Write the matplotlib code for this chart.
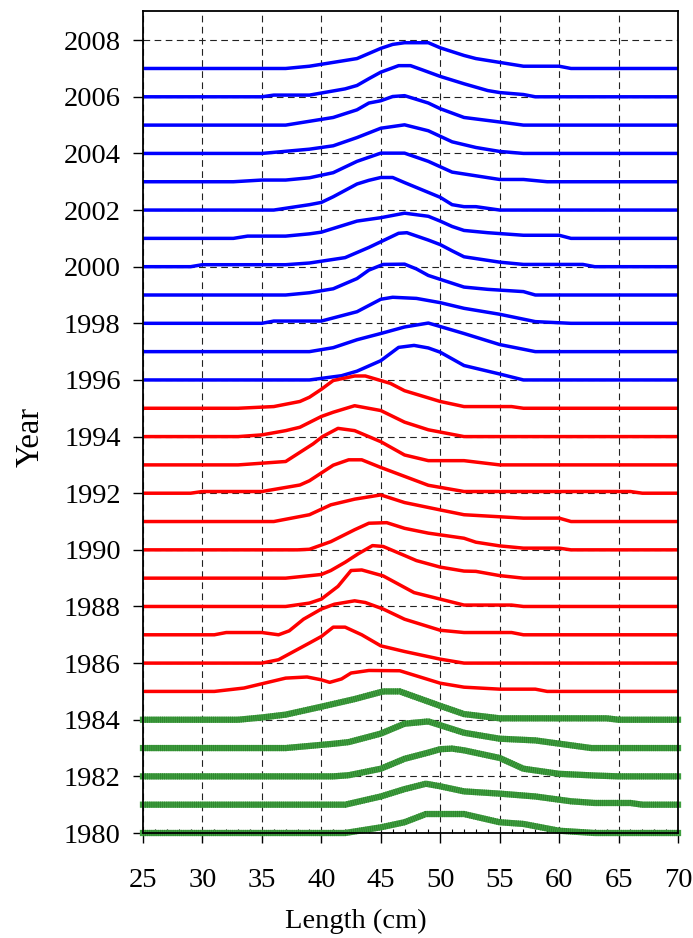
import matplotlib
matplotlib.use("Agg")
import matplotlib.pyplot as plt
from matplotlib.ticker import MultipleLocator

plt.rcParams['font.family'] = ['Liberation Serif', 'DejaVu Serif']

# ---- data: length-frequency profiles (height in "year" units), vertices (cm, height)
x_min, x_max = 25, 70
x_ticks = [25, 30, 35, 40, 45, 50, 55, 60, 65, 70]
y_ticks = list(range(1980, 2009, 2))

p2007 = [(37, 0), (39, 0.08), (43, 0.35), (44, 0.53), (45, 0.71), (46, 0.85), (47, 0.91), (49, 0.91),
         (50, 0.73), (52, 0.46), (53, 0.35), (57, 0.08), (60, 0.08), (61, 0)]
p2006 = [(35, 0), (36, 0.06), (39, 0.06), (42, 0.28), (43, 0.40), (44, 0.64), (45, 0.87), (46.5, 1.10),
         (47.5, 1.10), (48.5, 0.95), (50, 0.72), (52, 0.46), (54, 0.22), (55, 0.15), (57, 0.08), (58, 0)]
p2005 = [(37, 0), (41, 0.27), (43, 0.54), (44, 0.78), (45, 0.86), (46, 1.01), (47, 1.04), (49, 0.78),
         (50, 0.58), (52, 0.27), (55, 0.11), (57, 0)]
p2004 = [(35, 0), (39, 0.15), (41, 0.27), (43, 0.56), (45, 0.89), (47, 1.01), (49, 0.80), (51, 0.41),
         (53, 0.21), (55, 0.07), (57, 0)]
p2003 = [(32.6, 0), (35, 0.06), (37, 0.06), (39, 0.14), (41, 0.32), (43, 0.72), (45, 1.01), (47, 1.01),
         (49, 0.72), (51, 0.34), (55, 0.08), (57, 0.08), (59, 0)]
p2002 = [(36, 0), (39, 0.19), (40, 0.27), (41, 0.47), (43, 0.92), (44, 1.05), (45, 1.15), (46, 1.15),
         (47, 0.97), (50, 0.45), (51, 0.19), (52, 0.12), (53, 0.12), (55, 0)]
p2001 = [(32.6, 0), (33.8, 0.08), (37, 0.08), (39, 0.16), (40, 0.22), (43, 0.61), (45, 0.73), (47, 0.89),
         (49, 0.78), (50, 0.61), (51, 0.42), (52, 0.28), (54, 0.20), (57, 0.11), (60, 0.11), (61, 0)]
p2000 = [(29, 0), (30, 0.07), (37, 0.07), (39, 0.13), (42, 0.32), (44, 0.68), (45, 0.88), (46.5, 1.18),
         (47.2, 1.20), (49, 0.94), (50, 0.78), (51, 0.56), (52, 0.35), (55, 0.16), (57, 0.08), (62, 0.08), (63, 0)]
p1999 = [(37, 0), (39, 0.08), (41, 0.22), (43, 0.58), (44, 0.88), (45.2, 1.08), (47, 1.09), (48, 0.92),
         (49, 0.69), (52, 0.28), (54, 0.20), (57, 0.12), (58, 0)]
p1998 = [(35, 0), (36, 0.08), (40, 0.08), (43, 0.41), (45, 0.85), (46, 0.92), (48, 0.88), (50, 0.73),
         (52, 0.53), (55, 0.32), (58, 0.06), (61, 0)]
p1997 = [(39, 0), (41, 0.14), (43, 0.42), (45, 0.64), (47, 0.87), (49, 1.01), (52, 0.64), (55, 0.25), (58, 0)]
p1996 = [(39, 0), (41.7, 0.15), (43, 0.31), (45, 0.68), (46.5, 1.15), (47.8, 1.22), (49, 1.13), (50, 0.98),
         (52, 0.51), (55, 0.21), (57, 0)]
p1995 = [(33, 0), (36, 0.06), (38.2, 0.24), (39, 0.39), (40, 0.67), (41, 0.98), (42.8, 1.14), (43.7, 1.14),
         (45.8, 0.88), (47, 0.62), (50, 0.24), (52, 0.06), (56, 0.06), (57, 0)]
p1994 = [(33, 0), (35, 0.06), (37, 0.21), (38.2, 0.33), (40, 0.71), (41, 0.86), (42.8, 1.09), (45, 0.92),
         (47, 0.51), (49, 0.24), (52, 0)]
p1993 = [(33, 0), (35, 0.06), (37, 0.12), (39.3, 0.74), (40.1, 1.00), (41.4, 1.29), (42.8, 1.21), (45, 0.82),
         (47, 0.35), (49, 0.15), (52, 0.15), (55, 0)]
p1992 = [(29, 0), (30, 0.06), (35, 0.06), (38.2, 0.29), (39, 0.44), (41, 0.99), (42.3, 1.18), (43.4, 1.18),
         (45, 0.91), (49, 0.28), (52, 0.06), (66, 0.06), (67, 0)]
p1991 = [(36, 0), (39, 0.24), (40.8, 0.59), (42.8, 0.79), (45, 0.94), (47, 0.67), (50, 0.41), (52, 0.24),
         (57, 0.12), (60, 0.12), (61, 0)]
p1990 = [(38, 0), (39, 0.02), (40.8, 0.29), (42.8, 0.71), (44, 0.94), (45.5, 0.96), (47, 0.76), (49, 0.59),
         (52, 0.41), (53, 0.27), (55, 0.14), (57, 0.06), (60, 0.06), (61, 0)]
p1989 = [(37, 0), (40, 0.13), (40.8, 0.27), (42, 0.56), (43.1, 0.86), (44.3, 1.15), (45.2, 1.12), (47, 0.80),
         (48, 0.62), (50, 0.39), (52, 0.25), (53, 0.24), (55, 0.09), (57, 0)]
p1988 = [(37, 0), (39, 0.12), (40, 0.26), (41.4, 0.71), (42.5, 1.27), (43.4, 1.29), (45.2, 1.08), (47.8, 0.49),
         (50, 0.26), (52, 0.05), (56, 0.05), (57, 0)]
p1987 = [(31, 0), (32, 0.08), (35, 0.08), (36.4, 0), (37.3, 0.14), (38.5, 0.55), (40, 0.91), (41.1, 1.08),
         (42.8, 1.20), (43.7, 1.14), (45.2, 0.91), (47, 0.55), (50, 0.16), (52, 0.08), (56, 0.08), (57, 0)]
p1986 = [(35, 0), (36.4, 0.12), (39, 0.71), (40, 0.94), (41, 1.27), (42, 1.27), (43.4, 1.00), (45, 0.61),
         (47, 0.41), (50, 0.14), (52, 0)]
p1985 = [(31, 0), (33.5, 0.12), (35, 0.27), (37, 0.47), (38.8, 0.51), (40, 0.41), (40.7, 0.32), (41.7, 0.44),
         (42.5, 0.65), (44, 0.74), (46.6, 0.73), (50, 0.29), (52, 0.15), (55, 0.08), (58, 0.08), (59, 0)]
p1984 = [(33, 0), (35, 0.08), (37, 0.18), (40, 0.46), (42.8, 0.73), (45.2, 1.00), (46.6, 1.00), (50, 0.49),
         (52, 0.20), (55, 0.05), (64, 0.05), (65, 0)]
p1983 = [(37, 0), (41, 0.15), (42.3, 0.21), (45, 0.51), (47, 0.86), (49, 0.94), (52, 0.54), (55, 0.33),
         (58, 0.27), (62.7, 0)]
p1982 = [(41, 0), (42.3, 0.04), (45, 0.27), (47, 0.62), (49, 0.84), (50, 0.96), (51, 0.98), (52, 0.92),
         (55, 0.65), (57, 0.27), (60, 0.09), (63, 0.03), (65, 0)]
p1981 = [(42, 0), (45, 0.29), (47, 0.55), (48.8, 0.74), (50, 0.65), (52, 0.47), (55, 0.39), (58, 0.29),
         (61, 0.12), (63, 0.06), (66, 0.06), (67, 0)]
p1980 = [(42, 0), (45, 0.20), (47, 0.38), (48.8, 0.67), (52, 0.67), (55, 0.38), (57, 0.32), (60, 0.08), (63, 0)]

green_years = [1980, 1981, 1982, 1983, 1984]
red_years = list(range(1985, 1996))
blue_years = list(range(1996, 2008))

profiles = {y: globals()['p%d' % y] for y in green_years + red_years + blue_years}

# ---- figure
fig = plt.figure(figsize=(6.93, 9.38), dpi=100)
ax = fig.add_axes([143 / 693, 1 - 833 / 938, 535 / 693, 822 / 938])

ax.set_xlim(x_min, x_max)
ax.set_ylim(1980, 2009.03)

ax.set_xticks(x_ticks)
ax.set_yticks(y_ticks)
ax.xaxis.set_minor_locator(MultipleLocator(1))

ax.grid(True, which='major', color='#222222', linestyle=(0, (6, 4)), linewidth=0.8)
ax.set_axisbelow(True)


def curve(year):
    pts = [(x_min, 0.0)] + list(profiles[year]) + [(x_max, 0.0)]
    xs = [p[0] for p in pts]
    ys = [year + p[1] for p in pts]
    return xs, ys


for yr in blue_years:
    xs, ys = curve(yr)
    ax.plot(xs, ys, color='#0000ff', lw=2.5, solid_joinstyle='round', zorder=3)
for yr in red_years:
    xs, ys = curve(yr)
    ax.plot(xs, ys, color='#ff0000', lw=2.5, solid_joinstyle='round', zorder=3)
for yr in green_years:
    xs, ys = curve(yr)
    ax.plot(xs, ys, color='#3f9f3f', lw=4.5, solid_joinstyle='round', zorder=3, clip_on=False)
    ax.plot(xs, ys, color='#2a7f2a', lw=4.5, linestyle=(0, (0.12, 0.22)), dash_capstyle='butt',
            zorder=3, clip_on=False)

for s in ax.spines.values():
    s.set_linewidth(1.3)
    s.set_color('black')
    s.set_zorder(4)

ax.tick_params(axis='both', which='major', direction='out', length=7, width=1.0,
               labelsize=20.5, colors='black')
ax.tick_params(axis='y', which='major', pad=9)
ax.tick_params(axis='x', which='major', pad=18)
ax.tick_params(axis='x', which='minor', direction='in', length=3, width=0.8, bottom=True, top=False)
ax.tick_params(axis='y', which='minor', left=False, right=False)

fig.text(356 / 693, 1 - 921 / 938, 'Length (cm)', ha='center', va='center', fontsize=20.5)
fig.text(30 / 693, 1 - 437 / 938, 'Year', ha='center', va='center', rotation=90, fontsize=23.5)

fig.savefig('out.png', dpi=100)
